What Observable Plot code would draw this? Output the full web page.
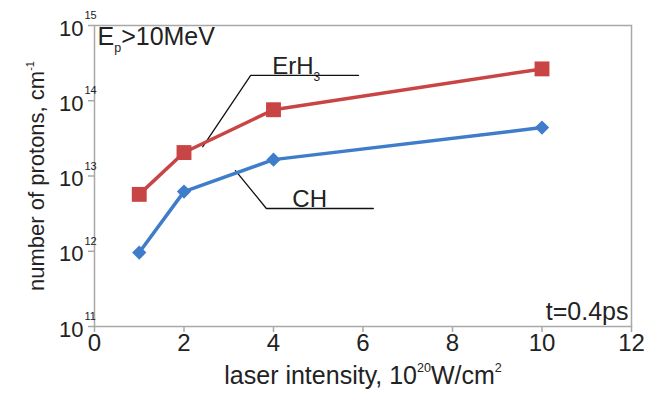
<!DOCTYPE html>
<html>
<head>
<meta charset="utf-8">
<script src="https://cdn.jsdelivr.net/npm/d3@7"></script>
<script src="https://cdn.jsdelivr.net/npm/@observablehq/plot@0.6"></script>
<style>
  body { margin: 0; background: #fff; }
  #chart svg { font-family: "Liberation Sans", Arial, sans-serif; }
</style>
</head>
<body>
<div id="chart"></div>
<script>
// ---- data ----
const intensity = [1, 2, 4, 10];
const erh3 = [5.7e12, 2.05e13, 7.6e13, 2.65e14];
const ch = [9.6e11, 6.2e12, 1.65e13, 4.4e13];
const xTicks = [0, 2, 4, 6, 8, 10, 12];
const yTicks = [1e11, 1e12, 1e13, 1e14, 1e15];
const yExponents = ["11", "12", "13", "14", "15"];
// annotation leader lines (data coordinates)
const erh3Leader = [[2.42, 2.45e13], [3.49, 2.17e14], [5.9, 2.17e14]];
const chLeader = [[3.15, 1.18e13], [3.84, 3.7e12], [6.23, 3.7e12]];

const red = "#c94444";
const blue = "#3f7dca";

const erRows = intensity.map((x, i) => ({x, y: erh3[i]}));
const chRows = intensity.map((x, i) => ({x, y: ch[i]}));
const yTickRows = yTicks.map((v, i) => ({y: v, e: yExponents[i]}));

const plot = Plot.plot({
  width: 655,
  height: 393,
  marginLeft: 94,
  marginRight: 24,
  marginTop: 25,
  marginBottom: 67,
  style: {fontFamily: "Liberation Sans, Arial, sans-serif", background: "#fff", color: "#222"},
  x: {domain: [0, 12]},
  y: {type: "log", domain: [1e11, 1e15]},
  marks: [
    Plot.frame({stroke: "#a8a8a8", strokeWidth: 1.5}),
    Plot.axisX({ticks: xTicks, tickSize: 6, tickPadding: 1, fontSize: 24, label: null, stroke: "#a8a8a8", strokeWidth: 1.5, tickFormat: d => String(d)}),
    Plot.axisY({ticks: yTicks, tickSize: 6, tickFormat: () => "", label: null, stroke: "#a8a8a8", strokeWidth: 1.5}),
    // y tick labels: "10" + exponent
    Plot.text(yTickRows, {x: () => 0, y: "y", text: () => "10", textAnchor: "end", dx: -11, dy: 3, fontSize: 22, fill: "#222"}),
    Plot.text(yTickRows, {x: () => 0, y: "y", text: "e", textAnchor: "start", dx: -10, dy: -10, fontSize: 11, fill: "#222"}),
    // leader lines
    Plot.line(erh3Leader, {x: d => d[0], y: d => d[1], stroke: "#111", strokeWidth: 1.3}),
    Plot.line(chLeader, {x: d => d[0], y: d => d[1], stroke: "#111", strokeWidth: 1.3}),
    // series
    Plot.line(erRows, {x: "x", y: "y", stroke: red, strokeWidth: 3.5}),
    Plot.line(chRows, {x: "x", y: "y", stroke: blue, strokeWidth: 3.5}),
    Plot.dot(erRows, {x: "x", y: "y", symbol: "square", r: 8.4, fill: red}),
    Plot.dot(chRows, {x: "x", y: "y", symbol: "square", rotate: 45, r: 5.7, fill: blue}),
    // series labels
    Plot.text(["ErH3"], {x: () => 3.97, y: () => 2.17e14, text: d => d, textAnchor: "start", lineAnchor: "bottom", dy: -1, fontSize: 24, fill: "#222", className: "lbl-erh3"}),
    Plot.text(["CH"], {x: () => 4.42, y: () => 3.7e12, text: d => d, textAnchor: "start", lineAnchor: "bottom", dy: -1, fontSize: 24, fill: "#222"}),
    // in-plot notes
    Plot.text(["Ep>10MeV"], {frameAnchor: "top-left", text: d => d, dx: 3, dy: 2, fontSize: 25, fill: "#222", className: "lbl-ep"}),
    Plot.text(["t=0.4ps"], {frameAnchor: "bottom-right", text: d => d, dx: -3, dy: -7, fontSize: 25, fill: "#222"}),
    // axis titles
    Plot.text(["laser intensity, 10^20W/cm^2"], {frameAnchor: "bottom", text: d => d, textAnchor: "middle", lineAnchor: "bottom", dy: 57, fontSize: 25, fill: "#222", className: "lbl-xt"}),
    Plot.text(["number of protons, cm^-1"], {frameAnchor: "left", text: d => d, textAnchor: "middle", lineAnchor: "middle", rotate: -90, dx: -58, fontSize: 22, fill: "#222", className: "lbl-yt"})
  ]
});
document.getElementById("chart").append(plot);

// rich text (subscripts / superscripts)
const svg = d3.select(plot);
function rich(cls, parts) {
  const t = svg.select("g." + cls + " text");
  t.text(null);
  for (const [s, kind] of parts) {
    const ts = t.append("tspan").text(s);
    if (kind === "sup") ts.attr("font-size", "0.5em").attr("baseline-shift", "90%");
    if (kind === "sub") ts.attr("font-size", "0.5em").attr("baseline-shift", "sub");
  }
}
rich("lbl-erh3", [["ErH"], ["3", "sub"]]);
rich("lbl-ep", [["E"], ["p", "sub"], [">10MeV"]]);
rich("lbl-xt", [["laser intensity, 10"], ["20", "sup"], ["W/cm"], ["2", "sup"]]);
rich("lbl-yt", [["number of protons, cm"], ["-1", "sup"]]);
</script>
</body>
</html>
